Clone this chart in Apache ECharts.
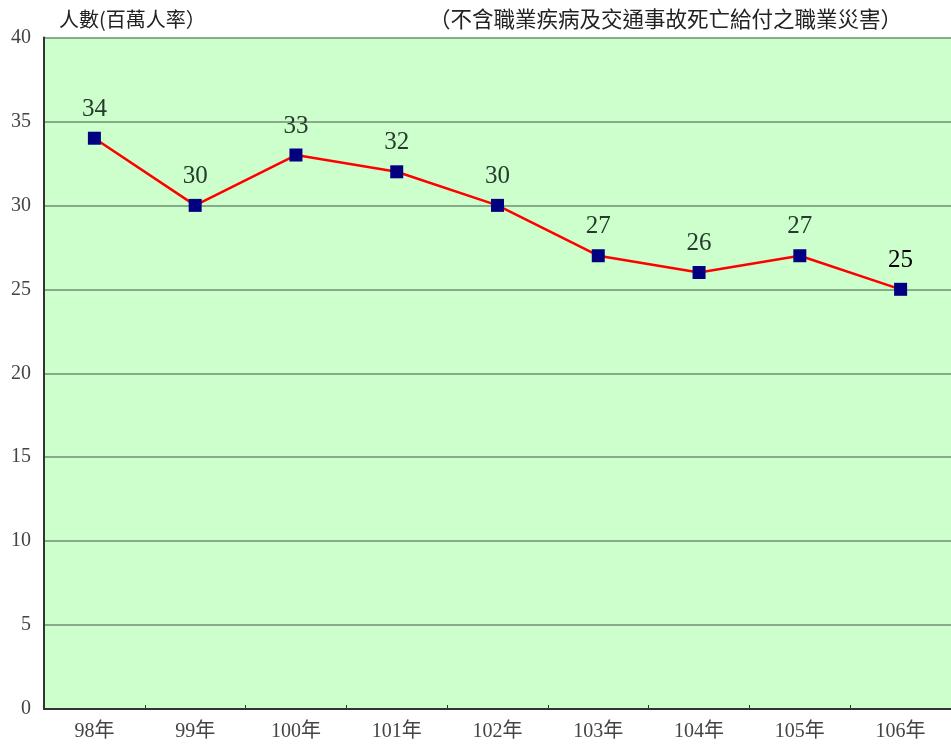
<!DOCTYPE html>
<html>
<head>
<meta charset="utf-8">
<script src="https://cdn.jsdelivr.net/npm/echarts@6/dist/echarts.min.js"></script>
<style>
html,body{margin:0;padding:0;background:#ffffff;}
#chart{width:951px;height:745px;}
</style>
</head>
<body>
<div id="chart"></div>
<script>
var categories = ['98年','99年','100年','101年','102年','103年','104年','105年','106年'];
var values = [34, 30, 33, 32, 30, 27, 26, 27, 25];
var yTicks = [0, 5, 10, 15, 20, 25, 30, 35, 40];
var unitText = '人數(百萬人率）';
var noteText = '（不含職業疾病及交通事故死亡給付之職業災害）';

var serif = '"Liberation Serif","DejaVu Serif","Noto Sans CJK TC",serif';
var cjk = '"Noto Sans CJK TC","Noto Sans CJK SC",sans-serif';

var chart = echarts.init(document.getElementById('chart'), null, {renderer: 'canvas'});
var seriesData = values.map(function (v, i) {
  var d = {value: v};
  if (i === values.length - 1) { d.label = {color: '#000000'}; }
  return d;
});
chart.setOption({
  backgroundColor: '#ffffff',
  animation: false,
  title: [
    {text: unitText, left: 54, top: 4, textStyle: {fontFamily: cjk, fontSize: 20, fontWeight: 'normal', color: '#222222'}},
    {text: noteText, left: 424, top: 3, textStyle: {fontFamily: cjk, fontSize: 21.5, fontWeight: 'normal', color: '#222222'}}
  ],
  grid: {left: 44, top: 37.5, width: 912, height: 671.5, show: true, backgroundColor: '#ccffcc', borderWidth: 0},
  xAxis: {
    type: 'category',
    data: categories,
    boundaryGap: true,
    axisLine: {lineStyle: {color: '#333333', width: 2}},
    axisTick: {show: true, inside: true, length: 4, lineStyle: {color: '#333333'}},
    axisLabel: {fontFamily: serif, fontSize: 20, color: '#444444', margin: 13},
    splitLine: {show: false}
  },
  yAxis: {
    type: 'value',
    min: yTicks[0],
    max: yTicks[yTicks.length - 1],
    interval: yTicks[1] - yTicks[0],
    axisLine: {show: true, lineStyle: {color: '#333333', width: 2}},
    axisTick: {show: false},
    axisLabel: {fontFamily: serif, fontSize: 20, color: '#444444', margin: 13},
    splitLine: {show: true, lineStyle: {color: '#6f8f72', width: 1.5}}
  },
  series: [{
    type: 'line',
    data: seriesData,
    symbol: 'rect',
    symbolSize: 13,
    itemStyle: {color: '#000080'},
    lineStyle: {color: '#ff0000', width: 2.5},
    label: {show: true, position: 'top', distance: 10, fontFamily: serif, fontSize: 25, color: '#263a2e'},
    z: 5
  }]
});
</script>
</body>
</html>
